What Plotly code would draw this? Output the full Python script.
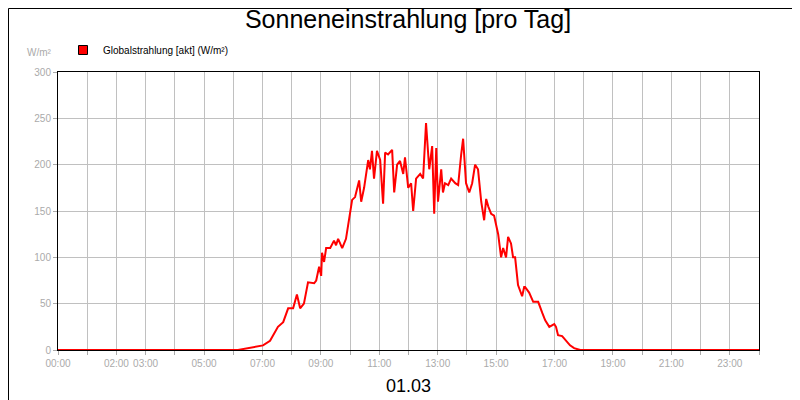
import plotly.graph_objects as go

hours = [0, 6.16, 7.02, 7.26, 7.53, 7.71, 7.88, 8.05, 8.18, 8.29, 8.42, 8.56, 8.77, 8.84, 8.94, 9.01, 9.04, 9.11,
         9.18, 9.32, 9.45, 9.52, 9.59, 9.73, 9.86, 9.97, 10.07, 10.17, 10.31, 10.38, 10.48, 10.62, 10.68, 10.75,
         10.82, 10.92, 11.03, 11.13, 11.20, 11.30, 11.44, 11.51, 11.61, 11.71, 11.82, 11.88, 11.99, 12.09, 12.16,
         12.26, 12.40, 12.50, 12.60, 12.71, 12.81, 12.88, 12.95, 13.01, 13.12, 13.18, 13.25, 13.36, 13.46, 13.60,
         13.70, 13.80, 13.87, 13.97, 14.08, 14.18, 14.28, 14.38, 14.49, 14.59, 14.66, 14.73, 14.83, 14.93, 15.07,
         15.17, 15.24, 15.34, 15.41, 15.51, 15.58, 15.65, 15.75, 15.89, 15.96, 15.99, 16.13, 16.27, 16.44, 16.58,
         16.68, 16.82, 16.99, 17.05, 17.12, 17.26, 17.40, 17.53, 17.67, 17.88, 18.15, 24]
values = [0, 0, 5, 10, 25, 30, 45, 45, 60, 45, 50, 73, 72, 75, 90, 80, 105, 95,
          110, 110, 118, 113, 120, 110, 120, 140, 162, 165, 183, 160, 175, 205, 195, 215,
          185, 215, 205, 158, 213, 211, 216, 170, 200, 204, 190, 208, 175, 180, 150,
          185, 190, 185, 245, 195, 220, 147, 218, 160, 195, 170, 180, 178, 185, 180,
          178, 210, 228, 180, 170, 180, 200, 195, 160, 140, 163, 155, 147, 145, 125,
          100, 110, 100, 122, 115, 100, 100, 70, 58, 68, 68, 62, 52, 52, 40,
          32, 25, 28, 25, 16, 15, 10, 5, 2, 0, 0, 0]
grid_hours = list(range(0, 25))
tick_labels = ["00:00", "", "02:00", "03:00", "", "05:00", "", "07:00", "", "09:00", "", "11:00", "",
               "13:00", "", "15:00", "", "17:00", "", "19:00", "", "21:00", "", "23:00", ""]
series_name = "Globalstrahlung [akt] (W/m²)"

W, H = 701, 278  # plot area in px
fig = go.Figure()
fig.add_trace(go.Scatter(x=hours, y=values, mode="lines", line=dict(color="#ff0000", width=2),
                         name=series_name, showlegend=False))
fig.add_trace(go.Scatter(x=[None], y=[None], mode="markers", name=series_name,
                         marker=dict(symbol="square", size=9, color="#ff0000", line=dict(color="black", width=1))))
fig.update_layout(
    width=800, height=400, plot_bgcolor="white", paper_bgcolor="white",
    margin=dict(l=50, r=49, t=64, b=58, autoexpand=False),
    font=dict(family="Liberation Sans, Arial, sans-serif"),
    title=dict(text="Sonneneinstrahlung [pro Tag]", x=0.5, xanchor="center", y=0.995, yanchor="top",
               font=dict(size=25, color="black")),
    legend=dict(x=5 / W, y=1 + 22 / H, xanchor="left", yanchor="middle", font=dict(size=10, color="black"),
                bgcolor="rgba(0,0,0,0)", itemwidth=30, tracegroupgap=0),
    xaxis=dict(range=[0, 24], tickvals=grid_hours, ticktext=tick_labels, showgrid=True, gridcolor="#c0c0c0",
               tickfont=dict(size=10, color="#aaaaaa"), ticks="outside", ticklen=4, tickcolor="#aaaaaa",
               showline=True, linecolor="black", mirror=True, zeroline=False, automargin=False),
    yaxis=dict(range=[0, 300], dtick=50, showgrid=True, gridcolor="#c0c0c0",
               tickfont=dict(size=10, color="#aaaaaa"), ticks="outside", ticklen=4, tickcolor="#aaaaaa",
               showline=True, linecolor="black", mirror=True, zeroline=False, automargin=False),
    shapes=[dict(type="rect", xref="paper", yref="paper", x0=-49.5 / W, x1=1 + 48.5 / W,
                 y0=-57.5 / H, y1=1 + 63.5 / H, line=dict(color="black", width=1))],
    annotations=[
        dict(text="W/m²", xref="paper", yref="paper", x=-4 / W, y=1 + 12 / H, xanchor="right", yanchor="bottom",
             showarrow=False, font=dict(size=10, color="#aaaaaa")),
        dict(text="01.03", xref="paper", yref="paper", x=0.5, y=-24 / H, xanchor="center", yanchor="top",
             showarrow=False, font=dict(size=18, color="black")),
    ],
)
fig.write_html("out.html")
